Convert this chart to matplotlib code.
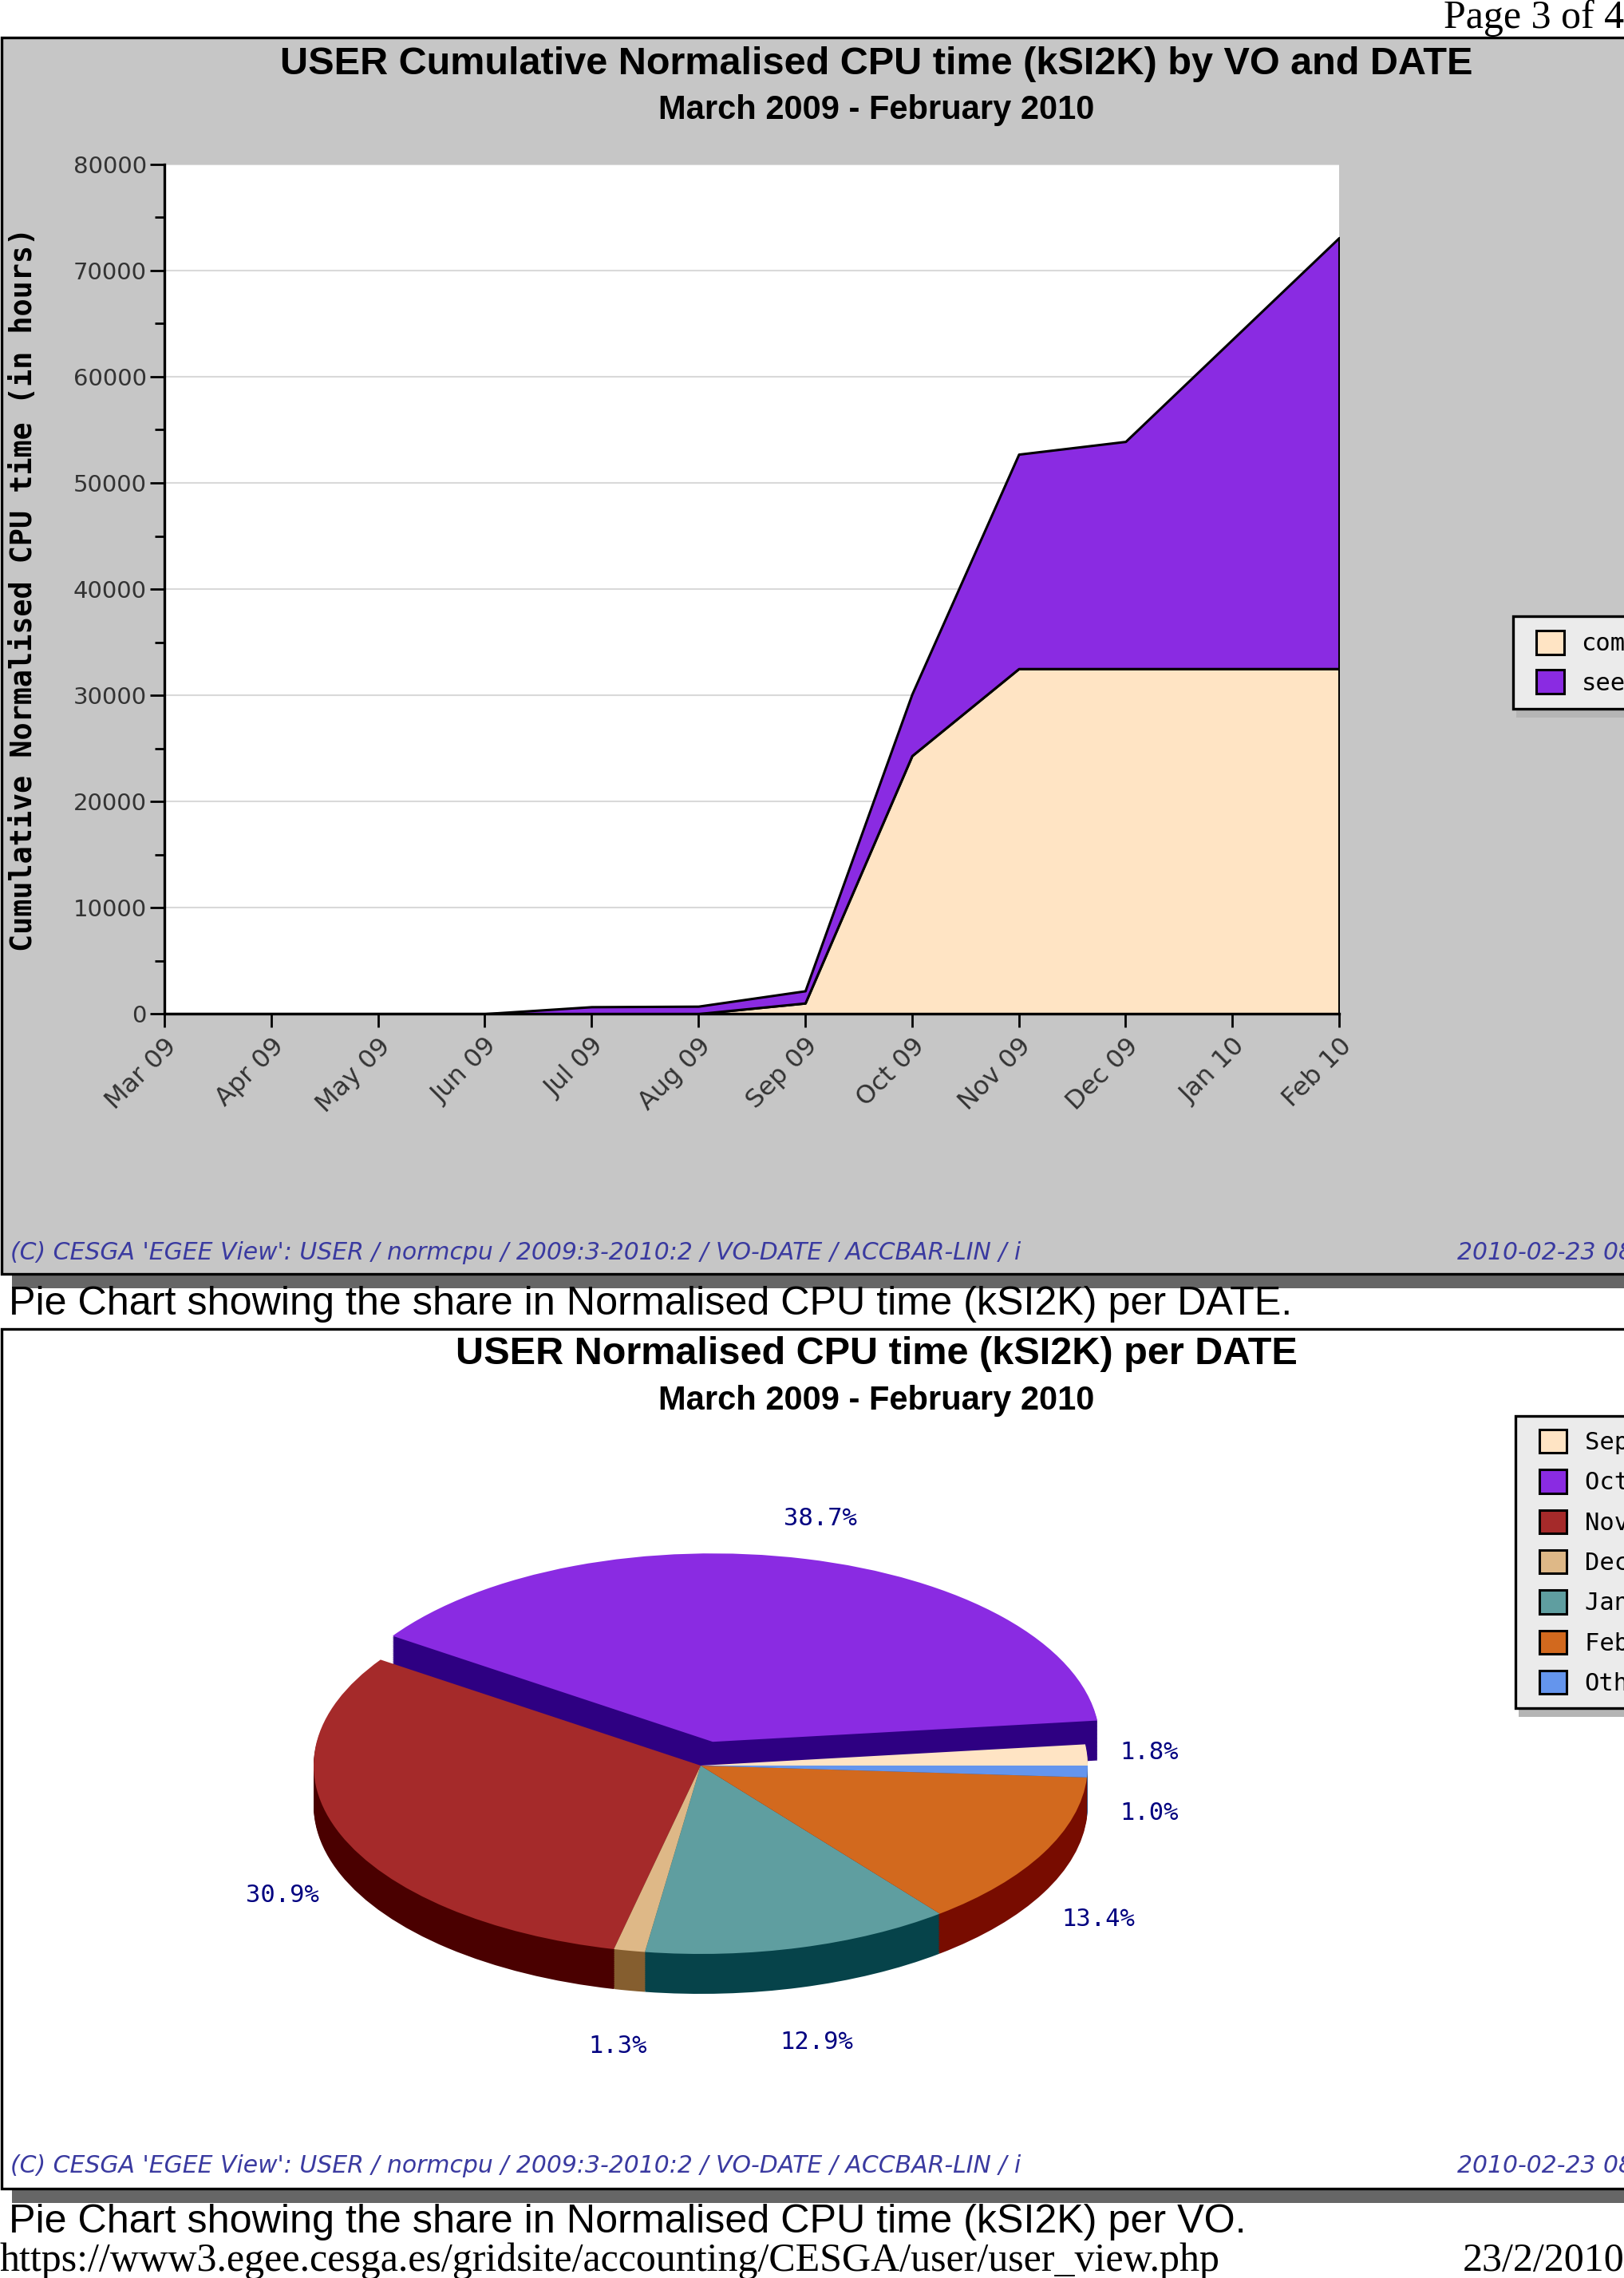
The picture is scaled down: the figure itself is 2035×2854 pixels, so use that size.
import numpy as np
import matplotlib
matplotlib.use('Agg')
import matplotlib.pyplot as plt
import matplotlib.patches as mpatches
from matplotlib.ticker import MultipleLocator

# ---- data ----
months = ['Mar 09', 'Apr 09', 'May 09', 'Jun 09', 'Jul 09', 'Aug 09',
          'Sep 09', 'Oct 09', 'Nov 09', 'Dec 09', 'Jan 10', 'Feb 10']
compchem = [0, 0, 0, 0, 0, 0, 1000, 24300, 32500, 32500, 32500, 32500]
see = [0, 0, 0, 0, 650, 700, 1150, 5800, 20200, 21400, 31000, 40600]
vo_names = ['compchem', 'see']
vo_colors = ['#FFE4C4', '#8A2BE2']

pie_labels = ['Sep 09', 'Oct 09', 'Nov 09', 'Dec 09', 'Jan 10', 'Feb 10', 'Others']
pie_share = [1.8, 38.7, 30.9, 1.3, 12.9, 13.4, 1.0]
pie_colors = ['#FFE4C4', '#8A2BE2', '#A52A2A', '#DEB887', '#5F9EA0', '#D2691E', '#6495ED']
pie_sides = ['#80725F', '#2E0082', '#4A0000', '#855E2F', '#06434A', '#780C00', '#314A78']

y_ticks = [0, 10000, 20000, 30000, 40000, 50000, 60000, 70000, 80000]

W, H = 2035, 2854
fig = plt.figure(figsize=(W / 100, H / 100), dpi=100)
fig.patch.set_facecolor('white')


def fx(x):
    return x / W


def fy(y):
    return 1 - y / H


def box(x0, y0, x1, y1, **kw):
    r = mpatches.Rectangle((fx(x0), fy(y1)), (x1 - x0) / W, (y1 - y0) / H,
                           transform=fig.transFigure, **kw)
    fig.add_artist(r)
    return r


sans = 'Liberation Sans'
serif = 'Liberation Serif'
mono = 'DejaVu Sans Mono'
foot_color = '#3A3AA0'

# page furniture
fig.text(1.0, fy(35), 'Page 3 of 4', ha='right', va='baseline', family=serif, size=36)

# upper panel
box(15, 1598, 2100, 1614, facecolor='#666666', edgecolor='none', zorder=-3)
box(1.5, 47.5, 2100, 1596.5, facecolor='#C6C6C6', edgecolor='black', linewidth=2.4, zorder=-2)
fig.text(fx(1098), fy(93), 'USER Cumulative Normalised CPU time (kSI2K) by VO and DATE',
         ha='center', va='baseline', family=sans, weight='bold', size=35)
fig.text(fx(1098), fy(149), 'March 2009 - February 2010',
         ha='center', va='baseline', family=sans, weight='bold', size=30)
footer = "(C) CESGA 'EGEE View': USER / normcpu / 2009:3-2010:2 / VO-DATE / ACCBAR-LIN / i"
stamp = '2010-02-23 08:46'
fig.text(fx(13), fy(1569), footer, ha='left', va='center', color=foot_color,
         size=21.5, style='italic')
fig.text(fx(1826), fy(1569), stamp, ha='left', va='center',
         color=foot_color, size=21.5, style='italic')

fig.text(fx(11), fy(1647), 'Pie Chart showing the share in Normalised CPU time (kSI2K) per DATE.',
         ha='left', va='baseline', family=sans, size=36.2)

# cumulative area chart
ax1 = fig.add_axes([fx(206), fy(1270), 1472 / W, 1064 / H])
ax1.set_facecolor('white')
x = np.arange(len(months))
ax1.stackplot(x, compchem, see, colors=vo_colors, edgecolor='black', linewidth=2.2)
ax1.set_xlim(0, len(months) - 1)
ax1.set_ylim(0, 80000)
ax1.set_axisbelow(True)
ax1.yaxis.grid(True, color='#D9D9D9', linewidth=1.5)
for s in ['top', 'right']:
    ax1.spines[s].set_visible(False)
for s in ['left', 'bottom']:
    ax1.spines[s].set_linewidth(2.4)
ax1.set_yticks(y_ticks)
ax1.set_yticklabels([str(v) for v in y_ticks])
ax1.yaxis.set_minor_locator(MultipleLocator(5000))
ax1.tick_params(axis='y', which='major', length=13, width=2, labelsize=21,
                labelcolor='#333333', pad=3)
ax1.tick_params(axis='y', which='minor', length=9, width=2)
ax1.set_xticks(x)
ax1.set_xticklabels(months, rotation=45, ha='right', rotation_mode='anchor')
ax1.tick_params(axis='x', length=12, width=2, labelsize=23, labelcolor='#333333', pad=6)
ax1.set_ylabel('Cumulative Normalised CPU time (in hours)', family=mono,
               weight='bold', size=26.5)
ax1.yaxis.set_label_coords((48 - 206) / 1472, 0.5)

# upper legend
box(1900, 887, 2100, 899, facecolor='#B5B5B5', edgecolor='none', zorder=2)
box(1895.5, 772, 2100, 887.5, facecolor='#EBEBEB', edgecolor='black', linewidth=2.4, zorder=3)
h1 = [mpatches.Patch(facecolor=c, edgecolor='black', linewidth=2.2) for c in vo_colors]
fig.legend(h1, vo_names, loc='upper left', bbox_to_anchor=(fx(1925), fy(790)),
           frameon=False, borderpad=0, borderaxespad=0,
           prop={'family': mono, 'size': 22}, handlelength=1.145, handleheight=1.145,
           handletextpad=0.7, labelspacing=0.58).set_zorder(4)

# lower panel
box(15, 2744, 2100, 2760, facecolor='#666666', edgecolor='none', zorder=-3)
box(1.5, 1664.5, 2100, 2741.5, facecolor='white', edgecolor='black', linewidth=2.4, zorder=-2)
fig.text(fx(1098), fy(1709), 'USER Normalised CPU time (kSI2K) per DATE',
         ha='center', va='baseline', family=sans, weight='bold', size=35)
fig.text(fx(1098), fy(1766), 'March 2009 - February 2010',
         ha='center', va='baseline', family=sans, weight='bold', size=30)
fig.text(fx(13), fy(2714), footer, ha='left', va='center', color=foot_color,
         size=21.5, style='italic')
fig.text(fx(1826), fy(2714), stamp, ha='left', va='center',
         color=foot_color, size=21.5, style='italic')

fig.text(fx(11), fy(2797), 'Pie Chart showing the share in Normalised CPU time (kSI2K) per VO.',
         ha='left', va='baseline', family=sans, size=36.2)
fig.text(0, fy(2845), 'https://www3.egee.cesga.es/gridsite/accounting/CESGA/user/user_view.php',
         ha='left', va='baseline', family=serif, size=36)
fig.text(1.0, fy(2845), '23/2/2010', ha='right', va='baseline', family=serif, size=36)

# 3D-looking pie: stacked darker layers for the rim, then the top face
rx, ry = 485, 236
ax2 = fig.add_axes([fx(878 - 600), fy(2212 + 354), 1200 / W, 708 / H])
explode = [0.13 if lab == 'Oct 09' else 0 for lab in pie_labels]
depth = 50 / ry
n_layers = 30
for k in range(n_layers):
    off = -depth + depth * k / n_layers
    ax2.pie(pie_share, colors=pie_sides, explode=explode, startangle=0,
            center=(0, off), wedgeprops=dict(linewidth=0))
ax2.pie(pie_share, colors=pie_colors, explode=explode, startangle=0,
        wedgeprops=dict(linewidth=0))
ax2.set_aspect('auto')
ax2.set_xlim(-600 / rx, 600 / rx)
ax2.set_ylim(-354 / ry, 354 / ry)
ax2.axis('off')

share = np.array(pie_share)
mids = np.deg2rad((np.cumsum(share) - share / 2) / share.sum() * 360)
for v, a, e in zip(share, mids, explode):
    lx = (1.16 + e) * np.cos(a)
    if np.sin(a) < 0:
        ly = 1.3 * np.sin(a) - depth
    else:
        ly = (1.22 + e) * np.sin(a)
    ax2.text(lx, ly, f'{v:.1f}%', ha='center', va='center', color='#000080',
             family=mono, size=22)

# lower legend
box(1903, 2139, 2100, 2151, facecolor='#B5B5B5', edgecolor='none', zorder=2)
box(1898.5, 1774, 2100, 2139.5, facecolor='#EBEBEB', edgecolor='black', linewidth=2.4, zorder=3)
h2 = [mpatches.Patch(facecolor=c, edgecolor='black', linewidth=2.2) for c in pie_colors]
fig.legend(h2, pie_labels, loc='upper left', bbox_to_anchor=(fx(1929), fy(1791)),
           frameon=False, borderpad=0, borderaxespad=0,
           prop={'family': mono, 'size': 22}, handlelength=1.1, handleheight=1.1,
           handletextpad=0.75, labelspacing=0.63).set_zorder(4)

fig.savefig('out.png', dpi=100)
